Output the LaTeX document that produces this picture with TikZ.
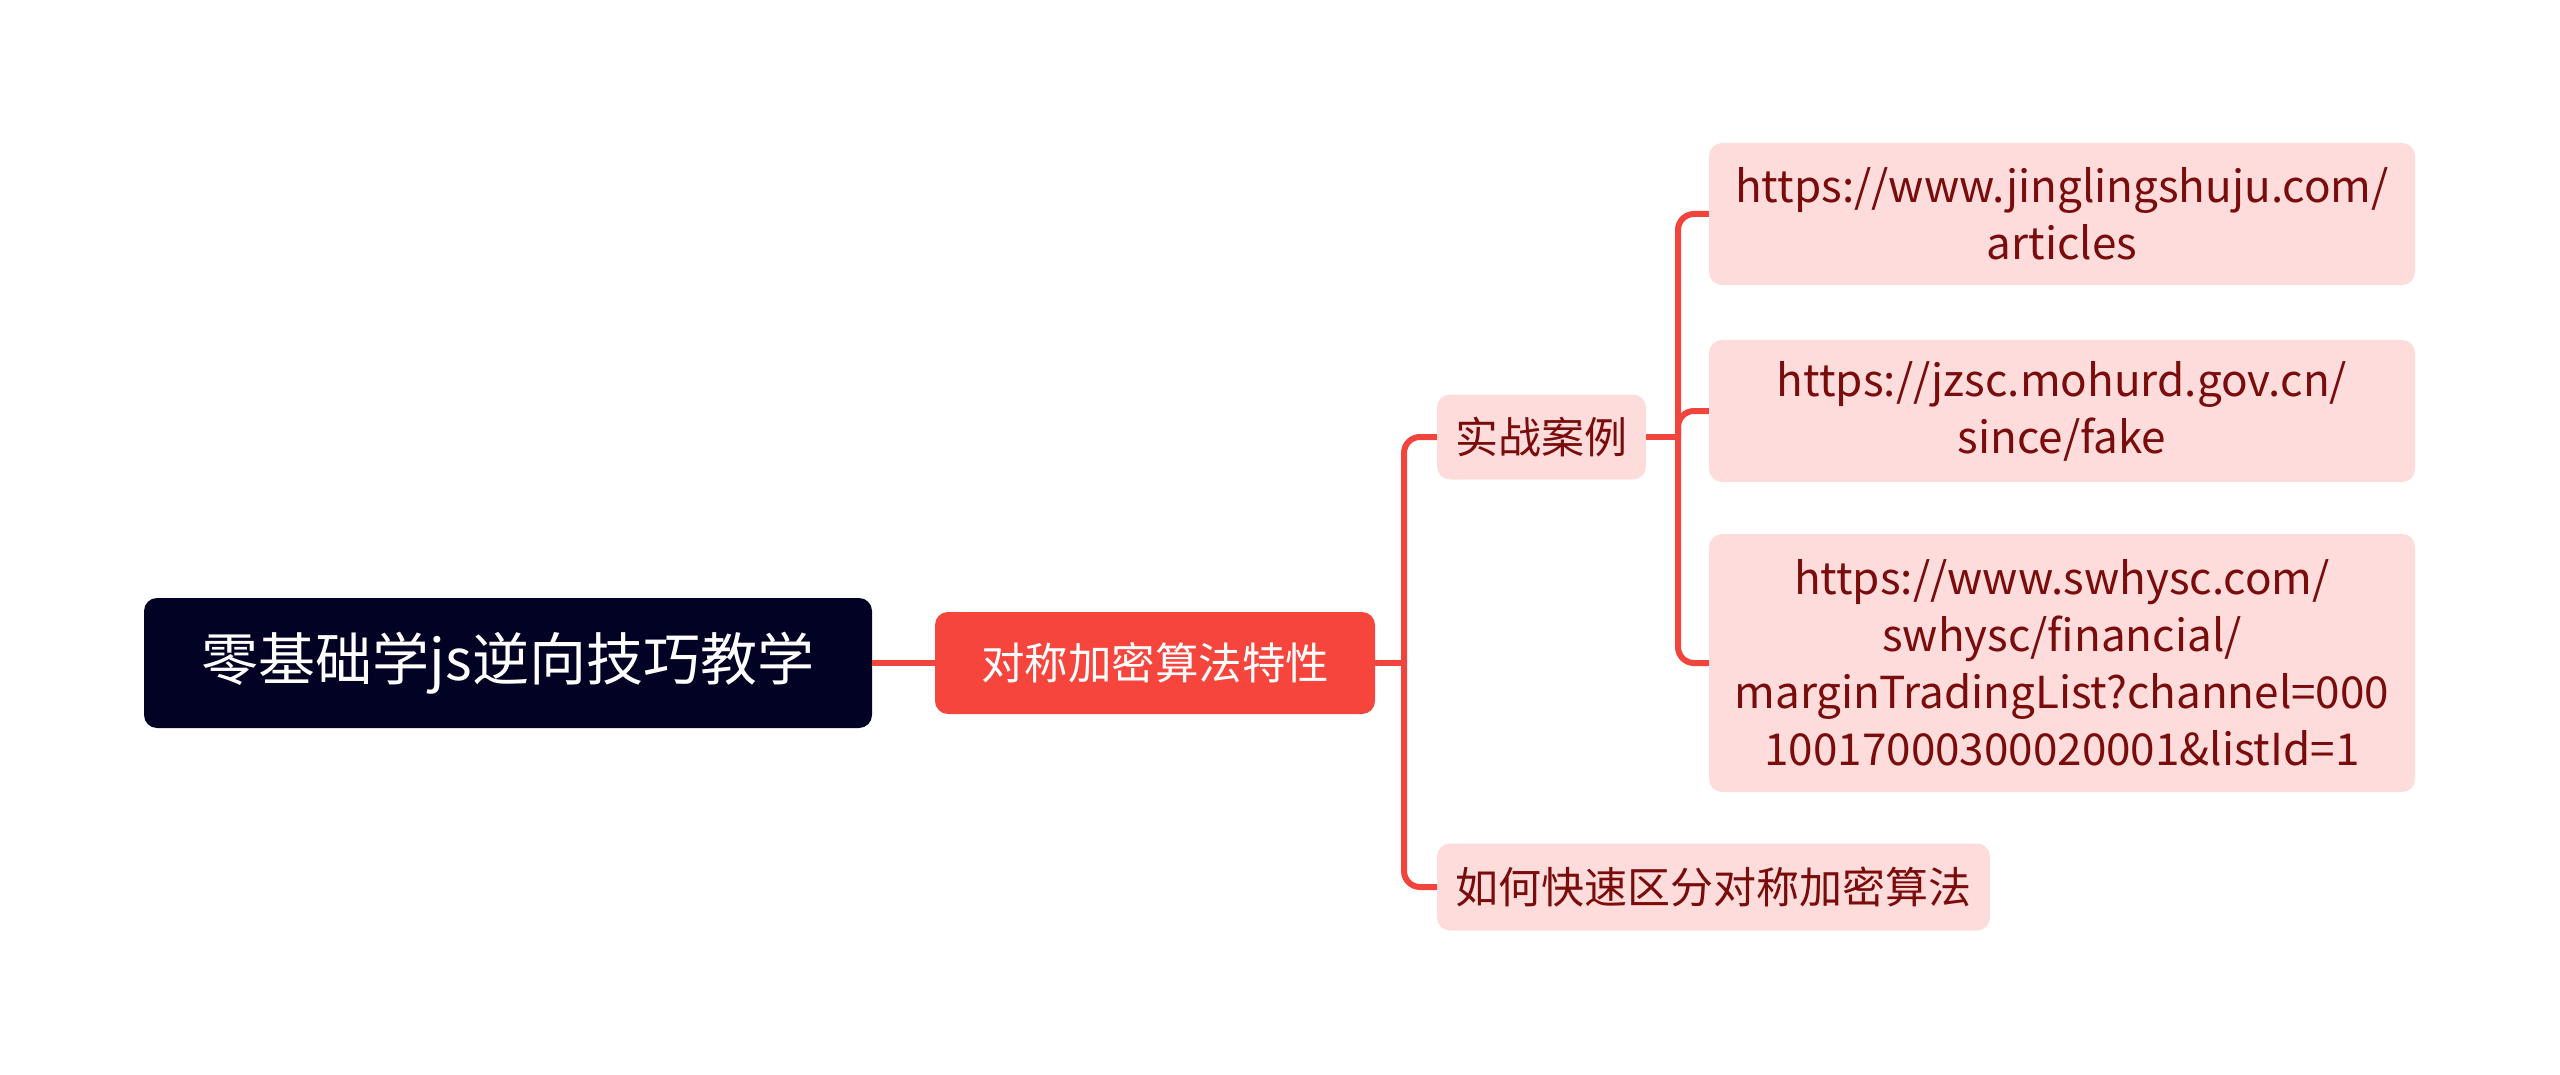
\documentclass[tikz,border=0pt]{standalone}
\usepackage{fontspec}
\newfontfamily\cjk{Noto Sans CJK SC}
\definecolor{rootfill}{HTML}{020324}
\definecolor{mainfill}{HTML}{F5453D}
\definecolor{linecol}{HTML}{F0443C}
\definecolor{pinkfill}{HTML}{FDDCDB}
\definecolor{darkred}{HTML}{7A0C0C}
\tikzset{
  base/.style={inner sep=0pt, align=center, rounded corners=13pt},
  rootbox/.style={base, fill=rootfill, text=white, font=\cjk\fontsize{57}{66}\selectfont},
  mainbox/.style={base, fill=mainfill, text=white, font=\cjk\fontsize{43.5}{55}\selectfont},
  leafbox/.style={base, fill=pinkfill, text=darkred, font=\cjk\fontsize{43}{57}\selectfont},
  urlbox/.style={base, fill=pinkfill, text=darkred, font=\cjk\fontsize{44}{57}\selectfont},
  conn/.style={draw=linecol, line width=6pt, rounded corners=16pt},
}
\begin{document}
\begin{tikzpicture}[x=1pt,y=-1pt]
\useasboundingbox (0,0) rectangle (2560,1075);
\node[rootbox, minimum width=728pt, minimum height=130pt] (root) at (508,663) {零基础学js逆向技巧教学};
\node[mainbox, minimum width=440pt, minimum height=102pt] (main) at (1155,663) {对称加密算法特性};
\node[leafbox, minimum width=209pt, minimum height=85pt] (sz) at (1541.5,437) {实战案例};
\node[leafbox, minimum width=553pt, minimum height=87pt] (rh) at (1713.5,887) {如何快速区分对称加密算法};
\node[urlbox, minimum width=706pt, minimum height=142pt] (u1) at (2062,214) {https://www.jinglingshuju.com/\\articles};
\node[urlbox, minimum width=706pt, minimum height=142pt] (u2) at (2062,411) {https://jzsc.mohurd.gov.cn/\\since/fake};
\node[urlbox, minimum width=706pt, minimum height=258pt] (u3) at (2062,663) {https://www.swhysc.com/\\swhysc/financial/\\marginTradingList?channel=000\\10017000300020001\&listId=1};
\coordinate (t1) at (1404,663);
\coordinate (t2) at (1678,437);
\draw[conn] (root.east) -- (main.west);
\draw[conn] (main.east) -- (t1);
\draw[conn] (sz.west) -| (t1) |- (rh.west);
\draw[conn] (sz.east) -- (t2);
\draw[conn] (u1.west) -| (t2) |- (u3.west);
\draw[conn] (t2) |- (u2.west);
\end{tikzpicture}
\end{document}
